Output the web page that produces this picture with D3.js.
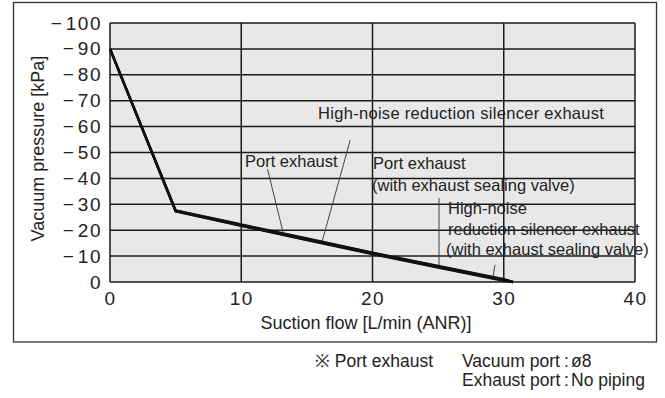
<!DOCTYPE html>
<html>
<head>
<meta charset="utf-8">
<script src="https://cdn.jsdelivr.net/npm/d3@7"></script>
<style>
  html, body { margin: 0; padding: 0; background: #fff; }
  svg { display: block; }
  text { font-family: "Liberation Sans", Arial, Helvetica, sans-serif; fill: #222; }
</style>
</head>
<body>
<svg id="chart" width="665" height="398"></svg>
<script>
// Suction flow [L/min (ANR)] sample points
const flow = [0, 5, 10, 15, 20, 25, 30, 30.7];
// Vacuum pressure magnitude [-kPa] for each exhaust configuration
const portExhaust        = [90, 27.5, 22.0, 16.6, 11.2, 6.0, 0.9, 0];
const silencerExhaust    = [90, 27.4, 21.8, 16.4, 11.0, 5.8, 0.7, 0];
const portSealingValve   = [90, 27.6, 22.2, 16.8, 11.3, 6.2, 1.1, 0];
const silencerSealing    = [90, 27.3, 21.7, 16.2, 10.8, 5.6, 0.5, 0];

const xTicks = [0, 10, 20, 30, 40];
const yTicks = [0, 10, 20, 30, 40, 50, 60, 70, 80, 90, 100];
const yTickLabels = ["0", "\u221210", "\u221220", "\u221230", "\u221240", "\u221250",
                     "\u221260", "\u221270", "\u221280", "\u221290", "\u2212100"];

const svg = d3.select("#chart");
const plot = { left: 110, right: 635, top: 23, bottom: 282 };

const x = d3.scaleLinear().domain([0, 40]).range([plot.left, plot.right]);
const y = d3.scaleLinear().domain([0, 100]).range([plot.bottom, plot.top]);

// outer frame
svg.append("rect")
  .attr("x", 13.5).attr("y", 2.5).attr("width", 643).attr("height", 339.5)
  .attr("fill", "none").attr("stroke", "#333").attr("stroke-width", 1.3);

// plot background
svg.append("rect")
  .attr("x", plot.left).attr("y", plot.top)
  .attr("width", plot.right - plot.left).attr("height", plot.bottom - plot.top)
  .attr("fill", "#e8e8e8");

// grid lines
const grid = svg.append("g").attr("stroke", "#1a1a1a").attr("stroke-width", 1.5);
grid.selectAll("line.h").data(yTicks).join("line")
  .attr("x1", plot.left).attr("x2", plot.right)
  .attr("y1", d => y(d)).attr("y2", d => y(d));
grid.selectAll("line.v").data(xTicks).join("line")
  .attr("y1", plot.top).attr("y2", plot.bottom)
  .attr("x1", d => x(d)).attr("x2", d => x(d));

// axes (labels only, the grid draws the lines)
const tickFont = g => g.selectAll("text")
  .style("font-size", "19px").style("letter-spacing", "1.5px")
  .attr("fill", "#222")
  .style("font-family", "'Liberation Sans', Arial, sans-serif");

const yAxis = d3.axisLeft(y).tickValues(yTicks)
  .tickFormat((d, i) => yTickLabels[i]).tickSize(0).tickPadding(8);
svg.append("g").attr("transform", `translate(${plot.left},0)`).call(yAxis)
  .call(g => g.select(".domain").remove())
  .call(tickFont)
  .call(g => g.selectAll("text").each(function (d, i) {
    // split the minus sign from the digits so it sits a little apart
    const label = yTickLabels[i];
    const t = d3.select(this).text(null);
    if (label.startsWith("\u2212")) {
      t.append("tspan").text("\u2212");
      t.append("tspan").attr("dx", 2.5).text(label.slice(1));
    } else {
      t.text(label);
    }
  }));

const xAxis = d3.axisBottom(x).tickValues(xTicks).tickSize(0).tickPadding(10);
svg.append("g").attr("transform", `translate(0,${plot.bottom})`).call(xAxis)
  .call(g => g.select(".domain").remove())
  .call(tickFont);

// axis titles
svg.append("text")
  .attr("x", 366).attr("y", 329)
  .attr("text-anchor", "middle").style("font-size", "18px")
  .text("Suction flow [L/min (ANR)]");
svg.append("text")
  .attr("transform", `translate(43.5,148.5) rotate(-90)`)
  .attr("text-anchor", "middle").style("font-size", "18px")
  .text("Vacuum pressure [kPa]");

// leader lines from labels to curves
const leaders = [
  [[12.0, 43.6], [13.2, 18.9]],
  [[18.3, 54.8], [16.15, 15.4]],
  [[25.07, 32.4], [25.07, 6.6]],
  [[29.33, 6.6], [29.18, 1.9]]
];
const leaderLine = d3.line().x(d => x(d[0])).y(d => y(d[1]));
svg.append("g").selectAll("path").data(leaders).join("path")
  .attr("d", leaderLine).attr("fill", "none")
  .attr("stroke", "#444").attr("stroke-width", 1);

// performance curves
const series = [portExhaust, silencerExhaust, portSealingValve, silencerSealing];
const curve = d3.line().x((d, i) => x(flow[i])).y(d => y(d));
svg.append("g").selectAll("path").data(series).join("path")
  .attr("d", curve).attr("fill", "none")
  .attr("stroke", "#111").attr("stroke-width", 2.4)
  .attr("stroke-linejoin", "round");

// curve labels
const labels = svg.append("g").style("font-size", "16.5px");
labels.append("text").attr("x", 318).attr("y", 119)
  .style("letter-spacing", "0.3px").text("High-noise reduction silencer exhaust");
labels.append("text").attr("x", 245).attr("y", 167).text("Port exhaust");
labels.append("text").attr("x", 373).attr("y", 169).text("Port exhaust");
labels.append("text").attr("x", 372).attr("y", 191).text("(with exhaust sealing valve)");
labels.append("text").attr("x", 448).attr("y", 214).text("High-noise");
labels.append("text").attr("x", 448).attr("y", 235).text("reduction silencer exhaust");
labels.append("text").attr("x", 446).attr("y", 255).text("(with exhaust sealing valve)");

// footnote
const note = svg.append("g").style("font-size", "17.5px");
note.append("text").attr("x", 315).attr("y", 367).text("\u203b Port exhaust");
note.append("text").attr("x", 462).attr("y", 367).text("Vacuum port");
note.append("text").attr("x", 462).attr("y", 386).text("Exhaust port");
note.append("text").attr("x", 564).attr("y", 367).text(":");
note.append("text").attr("x", 564).attr("y", 386).text(":");
note.append("text").attr("x", 571).attr("y", 367).text("\u00f88");
note.append("text").attr("x", 571).attr("y", 386).text("No piping");
</script>
</body>
</html>
